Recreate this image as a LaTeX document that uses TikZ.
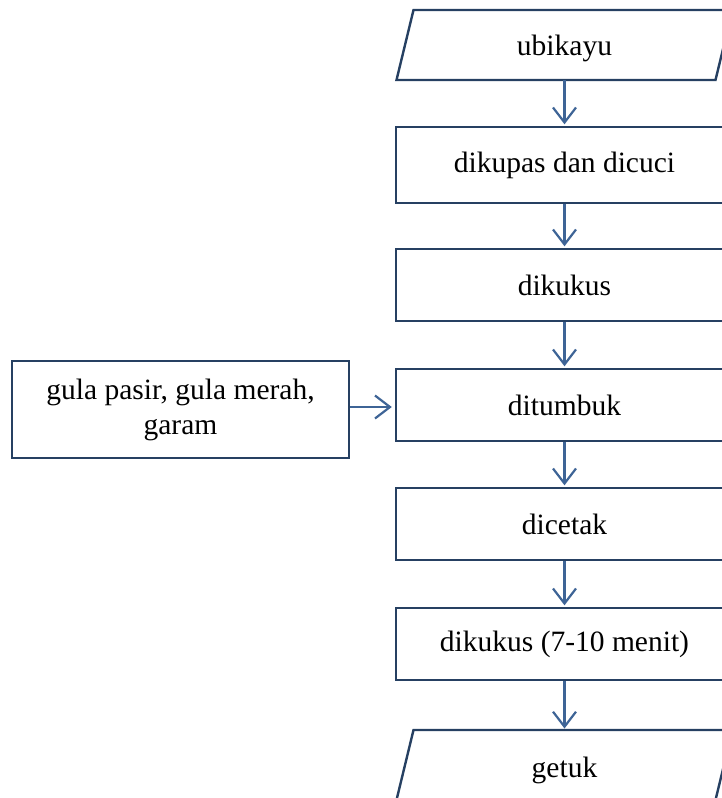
\documentclass[tikz,border=0pt]{standalone}
\usepackage{fontspec}
\setmainfont{Liberation Serif}
\usetikzlibrary{arrows.meta}
\definecolor{bordc}{RGB}{38,64,98}
\definecolor{arrc}{RGB}{62,100,150}
\begin{document}
\begin{tikzpicture}[x=1pt,y=-1pt,
  box/.style={draw=bordc, line width=2.4pt, minimum width=337pt, inner sep=0pt, align=center,
    font=\fontsize{29.5}{35}\selectfont},
  lbl/.style={inner sep=0pt, font=\fontsize{29.5}{35}\selectfont},
  para/.style={draw=bordc, line width=2.4pt, line join=miter},
  arr/.style={draw=arrc, line width=2.2pt, -{Straight Barb[length=15pt,width=23pt,line width=2.2pt]}, shorten >=1.5pt}]
\useasboundingbox (0,0) rectangle (722,798);
\clip (0,0) rectangle (722,798);
% top parallelogram
\draw[para] (413.5,10) -- (732.5,10) -- (715.5,80) -- (396.5,80) -- cycle;
\node[lbl] (p1) at (564.5,48) {ubikayu};
\coordinate (p1b) at (564.5,80);
% boxes
\node[box, minimum height=76pt] (b1) at (564.5,165) {dikupas dan dicuci};
\node[box, minimum height=72pt] (b2) at (564.5,285) {dikukus};
\node[box, minimum height=72pt] (b3) at (564.5,405) {ditumbuk};
\node[box, minimum height=72pt] (b4) at (564.5,524) {dicetak};
\node[box, minimum height=72pt] (b5) at (564.5,644) {dikukus (7-10 menit)};
% left box
\node[box, minimum height=97pt] (lb) at (180.5,409.5) {gula pasir, gula merah,\\garam};
% bottom parallelogram
\draw[para] (413.5,730) -- (732.5,730) -- (715.5,800) -- (396.5,800) -- cycle;
\node[lbl] (p2) at (564.5,770) {getuk};
\coordinate (p2t) at (564.5,730);
% arrows
\draw[arr] (p1b) -- (b1.north);
\draw[arr] (b1.south) -- (b2.north);
\draw[arr] (b2.south) -- (b3.north);
\draw[arr] (b3.south) -- (b4.north);
\draw[arr] (b4.south) -- (b5.north);
\draw[arr] (b5.south) -- (p2t);
\draw[arr, shorten >=3pt] ([yshift=2.5pt]lb.east) coordinate (la) -- (la -| b3.west);
\end{tikzpicture}
\end{document}
